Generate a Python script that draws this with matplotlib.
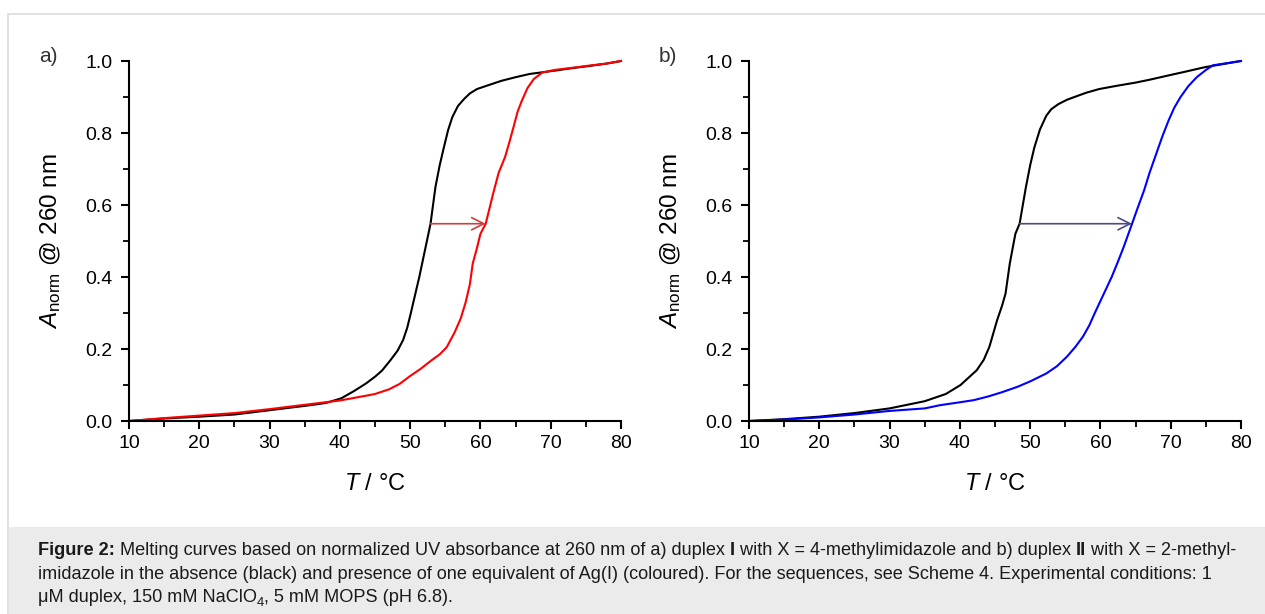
import matplotlib
matplotlib.use("Agg")
import matplotlib.pyplot as plt
from matplotlib.patches import Rectangle
from matplotlib.ticker import MultipleLocator

plt.rcParams['font.family'] = ['Liberation Sans', 'DejaVu Sans']
plt.rcParams['mathtext.fontset'] = 'custom'
plt.rcParams['mathtext.rm'] = 'Liberation Sans'
plt.rcParams['mathtext.it'] = 'Liberation Sans:italic'
plt.rcParams['mathtext.bf'] = 'Liberation Sans:bold'

# ---- data ----
Ta_black = [10, 15, 20, 25, 30, 35, 38, 40.2, 42, 43.7, 45, 46, 47.2, 48.2, 49.0, 49.6, 50.1, 50.7, 51.3, 52.2, 52.9, 53.6, 54.2, 54.8, 55.4, 56.0, 56.8, 57.7, 58.5, 59.5, 61, 63.0, 65, 67.0, 70.5, 73, 75.8, 78, 80]
Aa_black = [0.0, 0.007, 0.012, 0.018, 0.030, 0.042, 0.050, 0.063, 0.083, 0.104, 0.123, 0.140, 0.169, 0.195, 0.225, 0.260, 0.300, 0.350, 0.400, 0.483, 0.548, 0.650, 0.710, 0.760, 0.808, 0.844, 0.875, 0.895, 0.910, 0.922, 0.932, 0.945, 0.955, 0.964, 0.973, 0.980, 0.987, 0.993, 1.0]

Ta_red = [10, 15, 20, 25, 30, 35, 40, 42, 45, 47, 48.5, 50, 51.5, 53, 54.2, 55.2, 56.3, 57.2, 57.9, 58.5, 58.9, 59.5, 60.0, 60.75, 61.8, 62.6, 63.5, 64.2, 64.7, 65.3, 65.9, 66.7, 67.6, 68.8, 70.5, 73, 75.8, 78, 80]
Aa_red = [0.0, 0.008, 0.015, 0.022, 0.033, 0.045, 0.057, 0.064, 0.075, 0.088, 0.103, 0.125, 0.145, 0.168, 0.185, 0.205, 0.245, 0.285, 0.330, 0.380, 0.437, 0.480, 0.520, 0.548, 0.631, 0.690, 0.733, 0.780, 0.816, 0.860, 0.890, 0.925, 0.950, 0.968, 0.975, 0.981, 0.988, 0.993, 1.0]

Tb_black = [10, 15, 20, 25, 30, 35, 38, 40.1, 41.5, 42.4, 43.4, 44.2, 45.3, 46.0, 46.5, 47.1, 47.9, 48.5, 49.4, 50.0, 50.6, 51.4, 52.3, 53.0, 54.0, 55.2, 56.3, 58, 59.8, 62, 65, 67, 69.7, 72, 74.9, 77, 80]
Ab_black = [0.0, 0.005, 0.012, 0.022, 0.035, 0.055, 0.075, 0.100, 0.125, 0.141, 0.170, 0.206, 0.280, 0.320, 0.354, 0.437, 0.520, 0.548, 0.650, 0.710, 0.760, 0.810, 0.848, 0.866, 0.880, 0.892, 0.900, 0.912, 0.922, 0.930, 0.940, 0.948, 0.960, 0.970, 0.983, 0.990, 1.0]

Tb_blue = [10, 15, 20, 25, 30, 35, 37.2, 40, 42, 44, 46, 48.2, 50, 52.3, 53.8, 55.2, 56.4, 57.5, 58.4, 59.2, 60.4, 61.6, 62.5, 63.3, 64.5, 65.3, 66.2, 67.0, 67.9, 68.8, 69.7, 70.5, 71.4, 72.5, 73.7, 75.0, 76.0, 78, 80]
Ab_blue = [0.0, 0.004, 0.010, 0.018, 0.028, 0.035, 0.044, 0.052, 0.058, 0.068, 0.080, 0.095, 0.110, 0.132, 0.152, 0.178, 0.205, 0.234, 0.265, 0.300, 0.350, 0.400, 0.443, 0.483, 0.548, 0.592, 0.640, 0.690, 0.740, 0.790, 0.835, 0.870, 0.900, 0.930, 0.955, 0.975, 0.988, 0.994, 1.0]

arrow_a = (52.9, 60.75, 0.548)
arrow_b = (48.5, 64.5, 0.548)

xticks = [10, 20, 30, 40, 50, 60, 70, 80]
yticks = [0.0, 0.2, 0.4, 0.6, 0.8, 1.0]

fig = plt.figure(figsize=(12.65, 6.14), dpi=100)
fig.patch.set_facecolor('white')

W, H = 1265.0, 614.0
def fx(px): return px / W
def fy(py): return 1 - py / H

# border and caption background
fig.add_artist(Rectangle((fx(8), -0.01), 1 - fx(8) + 0.01, fy(13.5) + 0.01, transform=fig.transFigure,
                         facecolor='none', edgecolor='#dcdcdc', lw=1.2))
fig.add_artist(Rectangle((fx(9), 0), 1, fy(527), transform=fig.transFigure,
                         facecolor='#ebebeb', edgecolor='none'))

def make_ax(left_px, T1, A1, T2, A2, c2, arrow, arrow_color, label):
    ax = fig.add_axes([fx(left_px), fy(421), fx(492), (421 - 61) / H])
    ax.plot(T1, A1, color='black', lw=1.5, clip_on=False)
    ax.plot(T2, A2, color=c2, lw=1.5, clip_on=False)
    x0, x1, y = arrow
    ax.annotate('', xy=(x1, y), xytext=(x0, y),
                arrowprops=dict(arrowstyle='->', color=arrow_color, lw=1.2,
                                mutation_scale=22, shrinkA=0, shrinkB=0))
    ax.set_xlim(10, 80)
    ax.set_ylim(0, 1)
    ax.set_xticks(xticks)
    ax.set_yticks(yticks)
    ax.set_xticklabels([str(t) for t in xticks])
    ax.set_yticklabels(['%.1f' % t for t in yticks])
    ax.xaxis.set_minor_locator(MultipleLocator(5))
    ax.yaxis.set_minor_locator(MultipleLocator(0.1))
    for s in ['top', 'right']:
        ax.spines[s].set_visible(False)
    for s in ['left', 'bottom']:
        ax.spines[s].set_linewidth(1.5)
    ax.tick_params(which='major', direction='out', length=6, width=1.5, labelsize=14, pad=6)
    ax.tick_params(axis='x', which='major', pad=4)
    ax.tick_params(which='minor', direction='out', length=4, width=1.3)
    ax.set_xlabel(r'$\mathit{T}$ / °C', fontsize=17, labelpad=15)
    ax.set_ylabel(r'$\mathit{A}_{\mathrm{norm}}$ @ 260 nm', fontsize=17.5, labelpad=16)
    fig.text(fx(left_px - 90), fy(57), label, fontsize=15, color='#333333', va='center', ha='left')
    return ax

make_ax(129, Ta_black, Aa_black, Ta_red, Aa_red, '#ff0000', arrow_a, '#d23c3c', 'a)')
make_ax(749, Tb_black, Ab_black, Tb_blue, Ab_blue, '#0000ff', arrow_b, '#4b4b86', 'b)')

# caption, drawn as consecutive text runs
cap_size = 13.1
cap_lines = [
    [("Figure 2:", 'bold', False), (" Melting curves based on normalized UV absorbance at 260 nm of a) duplex ", 'normal', False),
     ("I", 'bold', False), (" with X = 4-methylimidazole and b) duplex ", 'normal', False), ("II", 'bold', False),
     (" with X = 2-methyl-", 'normal', False)],
    [("imidazole in the absence (black) and presence of one equivalent of Ag(I) (coloured). For the sequences, see Scheme 4. Experimental conditions: 1", 'normal', False)],
    [("μM duplex, 150 mM NaClO", 'normal', False), ("4", 'normal', True), (", 5 mM MOPS (pH 6.8).", 'normal', False)],
]
ys = [555, 579, 602]
fig.canvas.draw()
renderer = fig.canvas.get_renderer()
for runs, y in zip(cap_lines, ys):
    x = 38.0
    for txt, weight, sub in runs:
        size = cap_size * 0.72 if sub else cap_size
        yy = y + 4 if sub else y
        t = fig.text(fx(x), fy(yy), txt, fontsize=size, fontweight=weight, color='#1a1a1a',
                     va='baseline', ha='left')
        bb = t.get_window_extent(renderer=renderer)
        x += bb.width

fig.savefig('out.png', dpi=100)
